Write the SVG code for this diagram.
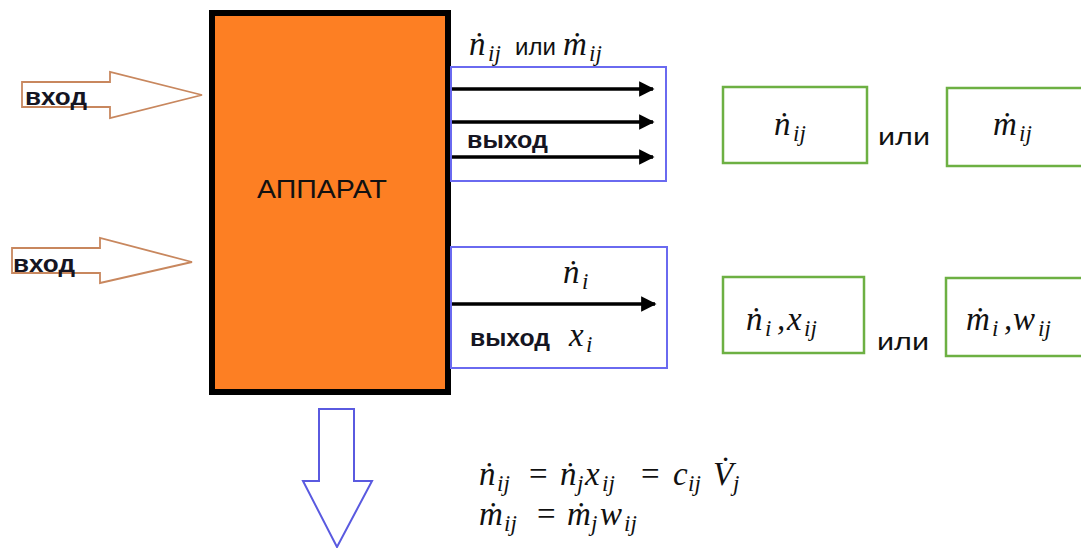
<svg xmlns="http://www.w3.org/2000/svg" width="1081" height="548" viewBox="0 0 1081 548">
<style>
.m{font-family:"Liberation Serif","Times New Roman",serif;font-style:italic;font-size:33px;fill:#111}
.s{font-size:23px}
.u{font-style:normal}
.lbl{font-family:"Liberation Sans",Arial,sans-serif;font-weight:bold;font-size:23px;fill:#151522}
.ili{font-family:"Liberation Sans",Arial,sans-serif;font-size:24px;fill:#111;font-style:normal}
.outbox{fill:none;stroke:#6A6AF0;stroke-width:2}
.res{fill:#fff;stroke:#6DB043;stroke-width:2.5}
.inarrow{fill:#fff;stroke:#C8875E;stroke-width:1.8}
.flow{stroke:#000;stroke-width:3.5;fill:none;marker-end:url(#ah)}
</style>
<defs>
<marker id="ah" viewBox="0 0 10 10" refX="9" refY="5" markerWidth="4.4" markerHeight="4.4" orient="auto" markerUnits="strokeWidth">
<path d="M0,0 L10,5 L0,10 z" fill="#000"/>
</marker>
</defs>
<rect width="1081" height="548" fill="#fff"/>

<g id="connectors">
<path class="inarrow" d="M22,82 H110 V72 L202,95 L110,118 V107 H22 Z"/>
<path class="inarrow" d="M12,248 H100 V238 L192,262 L100,283 V273 H12 Z"/>
<line class="flow" x1="451" y1="89" x2="653" y2="89"/>
<line class="flow" x1="451" y1="122" x2="653" y2="122"/>
<line class="flow" x1="451" y1="157" x2="653" y2="157"/>
<line class="flow" x1="451" y1="304" x2="655" y2="304"/>
<path d="M319,409 H354 V481 H372 L337,547 L303,481 H319 Z" fill="#fff" stroke="#5A5AE0" stroke-width="2"/>
</g>

<g id="input1"><text class="lbl" x="25" y="105" textLength="62" lengthAdjust="spacingAndGlyphs">вход</text></g>
<g id="input2"><text class="lbl" x="13" y="272" textLength="62" lengthAdjust="spacingAndGlyphs">вход</text></g>

<g id="apparatus">
<rect x="212" y="13" width="236" height="379" fill="#FD7F23" stroke="#000" stroke-width="6"/>
<text x="322" y="198" text-anchor="middle" font-family="Liberation Sans,Arial,sans-serif" font-size="25" fill="#111" textLength="130" lengthAdjust="spacingAndGlyphs">АППАРАТ</text>
</g>

<g id="output-components">
<rect class="outbox" x="451" y="67" width="215" height="114"/>
<text class="m" y="55"><tspan x="469">ṅ</tspan><tspan class="s" x="488" dy="6">ij</tspan><tspan class="ili" x="515" dy="-6">или</tspan><tspan x="563">ṁ</tspan><tspan class="s" x="589" dy="6">ij</tspan></text>
<text class="lbl" x="467" y="148" textLength="81" lengthAdjust="spacingAndGlyphs">выход</text>
</g>

<g id="output-total">
<rect class="outbox" x="451" y="247" width="216" height="121"/>
<text class="m" y="283"><tspan x="563">ṅ</tspan><tspan class="s" x="582" dy="6">i</tspan></text>
<text class="lbl" x="470" y="346" textLength="80" lengthAdjust="spacingAndGlyphs">выход</text>
<text class="m" y="346"><tspan x="569">x</tspan><tspan class="s" x="586" dy="6">i</tspan></text>
</g>

<g id="result-n">
<rect class="res" x="723" y="87" width="144" height="76"/>
<text class="m" y="135"><tspan x="774">ṅ</tspan><tspan class="s" x="793" dy="6">ij</tspan></text>
</g>
<text class="ili" x="878" y="145" textLength="52" lengthAdjust="spacingAndGlyphs">или</text>
<g id="result-m">
<rect class="res" x="947" y="88" width="140" height="78"/>
<text class="m" y="135"><tspan x="993">ṁ</tspan><tspan class="s" x="1019" dy="6">ij</tspan></text>
</g>

<g id="result-nx">
<rect class="res" x="723" y="277" width="141" height="76"/>
<text class="m" y="330"><tspan x="746">ṅ</tspan><tspan class="s" x="765" dy="6">i</tspan><tspan x="777" dy="-6">,</tspan><tspan x="787">x</tspan><tspan class="s" x="804" dy="6">ij</tspan></text>
</g>
<text class="ili" x="877" y="350" textLength="52" lengthAdjust="spacingAndGlyphs">или</text>
<g id="result-mw">
<rect class="res" x="946" y="278" width="140" height="78"/>
<text class="m" y="330"><tspan x="966">ṁ</tspan><tspan class="s" x="992" dy="6">i</tspan><tspan x="1004" dy="-6">,</tspan><tspan x="1013">w</tspan><tspan class="s" x="1038" dy="6">ij</tspan></text>
</g>

<g id="equations">
<text class="m" y="485"><tspan x="479">ṅ</tspan><tspan class="s" x="497" dy="6">ij</tspan><tspan class="u" x="529" dy="-6">=</tspan><tspan x="560">ṅ</tspan><tspan class="s" x="577" dy="6">j</tspan><tspan x="585" dy="-6">x</tspan><tspan class="s" x="602" dy="6">ij</tspan><tspan class="u" x="641" dy="-6">=</tspan><tspan x="673">c</tspan><tspan class="s" x="688" dy="6">ij</tspan><tspan x="713" dy="-6">V̇</tspan><tspan class="s" x="733" dy="6">j</tspan></text>
<text class="m" y="525"><tspan x="479">ṁ</tspan><tspan class="s" x="504" dy="6">ij</tspan><tspan class="u" x="537" dy="-6">=</tspan><tspan x="567">ṁ</tspan><tspan class="s" x="591" dy="6">j</tspan><tspan x="600" dy="-6">w</tspan><tspan class="s" x="624" dy="6">ij</tspan></text>
</g>
</svg>
